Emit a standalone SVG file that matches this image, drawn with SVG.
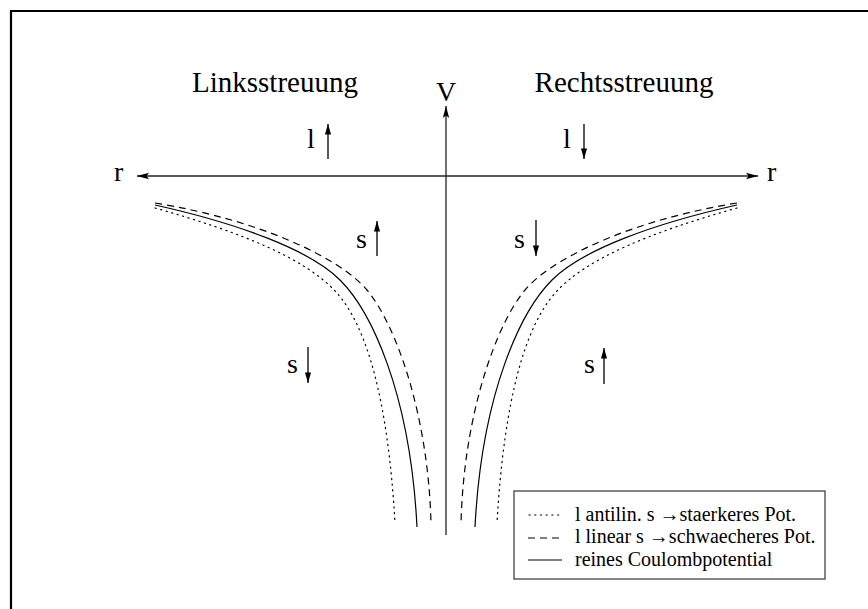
<svg xmlns="http://www.w3.org/2000/svg" width="868" height="609" viewBox="0 0 868 609">
<style>
text{font-family:"Liberation Serif","Times New Roman",serif;fill:#000}
.t{font-size:29px}
.lab{font-size:28px}
.leg{font-size:20px}
.ax{stroke:#222;stroke-width:1.3;fill:none}
.ar{stroke:#000;stroke-width:1.3;fill:none}
.c{stroke:#000;stroke-width:1.2;fill:none}
.dash{stroke-dasharray:7 5}
.dot{stroke-dasharray:1.2 4.5;stroke-linecap:round}
</style>
<defs>
<marker id="ah" viewBox="0 0 12 8" refX="12" refY="4" markerWidth="12" markerHeight="8" markerUnits="userSpaceOnUse" orient="auto">
<path d="M0,0.8 L12,4 L0,7.2 L2.5,4 Z" fill="#000"/>
</marker>
<marker id="as" viewBox="0 0 12 8" refX="12" refY="4" markerWidth="12" markerHeight="7" markerUnits="userSpaceOnUse" orient="auto">
<path d="M0,0.5 L12,4 L0,7.5 Z" fill="#000"/>
</marker>
</defs>
<rect width="868" height="609" fill="#fff"/>
<path d="M11,609 V11 H868" stroke="#000" stroke-width="2.2" fill="none"/>

<g id="connectors">
<line id="axis-r-left" class="ax" x1="446" y1="176" x2="137" y2="176" marker-end="url(#ah)"/>
<line id="axis-r-right" class="ax" x1="446" y1="176" x2="758" y2="176" marker-end="url(#ah)"/>
<line id="axis-v" class="ax" x1="446" y1="535" x2="446" y2="106" marker-end="url(#ah)"/>
<line class="ar" x1="328" y1="159" x2="328" y2="124" marker-end="url(#as)"/>
<line class="ar" x1="584" y1="124" x2="584" y2="159" marker-end="url(#as)"/>
<line class="ar" x1="377" y1="256" x2="377" y2="221" marker-end="url(#as)"/>
<line class="ar" x1="308" y1="347" x2="308" y2="383" marker-end="url(#as)"/>
<line class="ar" x1="536" y1="220" x2="536" y2="256" marker-end="url(#as)"/>
<line class="ar" x1="604" y1="384" x2="604" y2="348" marker-end="url(#as)"/>
</g>

<g id="curves-left">
<path class="c dot" d="M155,208 C240,232 305,258 336,292 S388,400 395,523"/>
<path class="c" d="M155,205 C240,224 310,250 340,280 S410,390 417,527"/>
<path class="c dash" d="M155,203 C260,220 340,258 367,290 S428,410 431,523"/>
</g>
<g id="curves-right" transform="translate(892,0) scale(-1,1)">
<path class="c dot" d="M155,208 C240,232 305,258 336,292 S388,400 395,523"/>
<path class="c" d="M155,205 C240,224 310,250 340,280 S410,390 417,527"/>
<path class="c dash" d="M155,203 C260,220 340,258 367,290 S428,410 431,523"/>
</g>

<g id="titles">
<text class="t" x="275" y="92" text-anchor="middle">Linksstreuung</text>
<text class="t" x="624" y="92" text-anchor="middle">Rechtsstreuung</text>
<text class="lab" x="446" y="101" text-anchor="middle">V</text>
<text class="lab" x="114" y="181">r</text>
<text class="lab" x="767" y="181">r</text>
</g>

<g id="labels">
<text class="lab" x="307" y="148">l</text>
<text class="lab" x="563" y="148">l</text>
<text class="lab" x="356" y="248">s</text>
<text class="lab" x="287" y="373">s</text>
<text class="lab" x="514" y="248">s</text>
<text class="lab" x="584" y="373">s</text>
</g>

<g id="legend">
<rect x="514" y="491" width="311" height="88" fill="#fff" stroke="#333" stroke-width="1.2"/>
<line class="c dot" x1="529" y1="515" x2="562" y2="515"/>
<line class="c dash" x1="528" y1="538" x2="562" y2="538"/>
<line class="c" x1="528" y1="560" x2="562" y2="560"/>
<text class="leg" x="575" y="521">l antilin. s →staerkeres Pot.</text>
<text class="leg" x="575" y="543">l linear s →schwaecheres Pot.</text>
<text class="leg" x="575" y="566">reines Coulombpotential</text>
</g>
</svg>
